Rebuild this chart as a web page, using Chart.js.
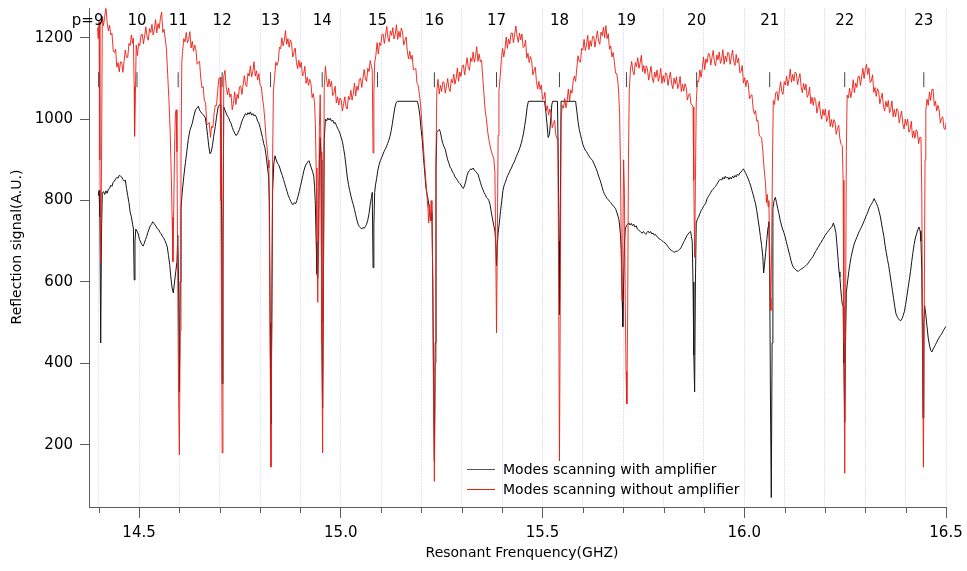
<!DOCTYPE html>
<html>
<head>
<meta charset="utf-8">
<title>Mode scan reflection</title>
<script src="https://cdn.jsdelivr.net/npm/chart.js@4.4.0/dist/chart.umd.min.js"></script>
<style>
  html, body { margin: 0; padding: 0; background: #fff; }
  #wrap { width: 967px; height: 571px; position: relative; }
</style>
</head>
<body>
<div id="wrap"><canvas id="modeChart"></canvas></div>
<script>
// reflection signal (A.U.) vs frequency (GHz)
const withAmp = [
  [14.399,812],[14.401,825],[14.403,760],[14.405,450],[14.407,720],[14.409,818],[14.412,822],[14.415,815],[14.418,824],[14.421,818],
  [14.424,828],[14.427,830],[14.430,838],[14.433,835],[14.436,845],[14.439,848],[14.442,853],[14.445,857],[14.448,855],[14.451,862],
  [14.454,860],[14.457,858],[14.460,852],[14.463,848],[14.466,850],[14.469,830],[14.472,812],[14.475,795],[14.478,772],[14.481,760],
  [14.484,742],[14.486,733],[14.488,605],[14.490,700],[14.492,730],[14.495,725],[14.498,718],[14.501,705],[14.504,698],[14.507,692],
  [14.510,688],[14.513,695],[14.516,704],[14.519,712],[14.522,722],[14.525,730],[14.528,738],[14.531,742],[14.534,748],[14.537,744],
  [14.540,740],[14.543,735],[14.546,730],[14.549,728],[14.552,722],[14.555,718],[14.558,712],[14.561,708],[14.564,702],[14.567,695],
  [14.570,686],[14.573,665],[14.576,643],[14.579,610],[14.582,585],[14.585,573],[14.588,600],[14.591,625],[14.594,650],[14.596,715],
  [14.598,600],[14.600,330],[14.602,600],[14.604,780],[14.607,820],[14.611,860],[14.615,893],[14.619,925],[14.622,950],[14.626,972],
  [14.632,990],[14.636,1008],[14.640,1023],[14.644,1028],[14.647,1032],[14.650,1022],[14.653,1018],[14.656,1014],[14.660,1010],[14.664,1004],
  [14.667,985],[14.670,960],[14.673,932],[14.676,915],[14.679,920],[14.682,935],[14.685,958],[14.689,982],[14.692,1005],[14.696,1030],
  [14.700,1036],[14.703,1035],[14.705,700],[14.706,350],[14.708,700],[14.710,1030],[14.713,1022],[14.716,1015],[14.719,1008],[14.722,1004],
  [14.725,995],[14.728,990],[14.731,980],[14.734,972],[14.737,966],[14.740,960],[14.743,962],[14.746,968],[14.749,975],[14.752,985],
  [14.755,995],[14.758,1002],[14.761,1008],[14.764,1014],[14.767,1010],[14.770,1016],[14.773,1012],[14.776,1018],[14.779,1010],[14.782,1014],
  [14.785,1008],[14.788,1010],[14.791,1005],[14.794,995],[14.797,990],[14.800,980],[14.803,968],[14.806,955],[14.809,940],[14.812,930],
  [14.815,910],[14.818,885],[14.821,860],[14.823,800],[14.825,500],[14.827,250],[14.829,500],[14.831,820],[14.834,890],[14.837,910],
  [14.840,900],[14.843,892],[14.846,888],[14.849,880],[14.852,870],[14.855,862],[14.858,852],[14.861,842],[14.864,832],[14.867,822],
  [14.870,812],[14.873,805],[14.876,798],[14.879,792],[14.882,790],[14.885,795],[14.888,792],[14.891,800],[14.894,810],[14.897,822],
  [14.900,835],[14.903,848],[14.906,862],[14.909,875],[14.912,885],[14.915,890],[14.918,895],[14.921,898],[14.924,890],[14.927,880],
  [14.930,872],[14.933,860],[14.935,835],[14.937,790],[14.939,700],[14.941,620],[14.943,610],[14.945,700],[14.947,900],[14.949,955],
  [14.951,900],[14.953,500],[14.955,290],[14.957,600],[14.959,950],[14.962,1000],[14.965,996],[14.968,1003],[14.971,998],[14.974,1002],
  [14.977,995],[14.980,998],[14.983,990],[14.986,992],[14.989,985],[14.992,978],[14.995,972],[14.998,965],[15.001,955],[15.004,945],
  [15.007,928],[15.010,910],[15.013,885],[15.016,858],[15.019,840],[15.022,825],[15.025,812],[15.028,800],[15.031,790],[15.034,778],
  [15.037,765],[15.040,752],[15.043,742],[15.046,736],[15.049,733],[15.052,730],[15.055,734],[15.058,732],[15.061,736],[15.064,742],
  [15.067,752],[15.070,768],[15.073,790],[15.076,808],[15.078,820],[15.080,635],[15.082,740],[15.084,820],[15.086,838],[15.089,855],
  [15.092,875],[15.095,888],[15.098,898],[15.101,905],[15.104,912],[15.107,920],[15.110,926],[15.113,932],[15.116,940],[15.119,948],
  [15.122,958],[15.125,972],[15.128,990],[15.131,1010],[15.134,1028],[15.137,1040],[15.140,1044],[15.190,1044],[15.193,1030],[15.196,1010],
  [15.199,975],[15.202,950],[15.205,905],[15.208,870],[15.211,832],[15.214,815],[15.217,800],[15.220,775],[15.222,758],[15.224,752],
  [15.226,770],[15.228,600],[15.230,350],[15.232,160],[15.234,450],[15.236,880],[15.238,968],[15.241,972],[15.244,975],[15.247,968],
  [15.250,952],[15.253,940],[15.256,932],[15.259,926],[15.262,912],[15.265,900],[15.268,892],[15.271,882],[15.274,878],[15.277,870],
  [15.280,866],[15.283,858],[15.286,855],[15.289,850],[15.292,845],[15.295,842],[15.298,838],[15.301,832],[15.304,830],[15.307,838],
  [15.310,848],[15.313,862],[15.316,870],[15.319,874],[15.322,878],[15.325,876],[15.328,880],[15.331,875],[15.334,872],[15.337,868],
  [15.340,865],[15.343,855],[15.346,845],[15.349,835],[15.352,828],[15.355,820],[15.358,815],[15.361,808],[15.364,805],[15.367,800],
  [15.370,790],[15.373,772],[15.376,755],[15.379,740],[15.382,725],[15.384,700],[15.386,640],[15.388,690],[15.390,720],[15.393,745],
  [15.396,775],[15.399,800],[15.402,825],[15.405,838],[15.408,845],[15.411,855],[15.414,862],[15.417,868],[15.420,875],[15.423,880],
  [15.426,888],[15.429,893],[15.432,900],[15.435,908],[15.438,915],[15.441,922],[15.444,930],[15.447,940],[15.450,952],[15.453,966],
  [15.456,985],[15.459,1005],[15.462,1030],[15.465,1044],[15.505,1044],[15.508,1020],[15.511,990],[15.514,955],[15.517,962],[15.520,995],
  [15.523,1035],[15.525,1044],[15.537,1044],[15.539,900],[15.541,700],[15.542,520],[15.544,760],[15.546,1044],[15.582,1044],[15.585,1020],
  [15.588,995],[15.591,975],[15.594,962],[15.597,950],[15.600,938],[15.603,930],[15.606,924],[15.609,920],[15.612,915],[15.615,910],
  [15.618,905],[15.621,902],[15.624,898],[15.627,892],[15.630,885],[15.633,878],[15.636,870],[15.639,860],[15.642,852],[15.645,843],
  [15.648,832],[15.651,822],[15.654,815],[15.657,810],[15.660,805],[15.663,802],[15.666,798],[15.669,795],[15.672,790],[15.675,788],
  [15.678,784],[15.681,780],[15.684,772],[15.687,762],[15.689,755],[15.691,740],[15.693,718],[15.695,680],[15.697,580],[15.699,490],
  [15.701,600],[15.703,690],[15.705,730],[15.708,738],[15.711,742],[15.714,745],[15.717,740],[15.720,744],[15.723,738],[15.726,742],
  [15.729,735],[15.732,738],[15.735,730],[15.738,728],[15.741,725],[15.744,722],[15.747,720],[15.750,724],[15.753,720],[15.756,717],
  [15.759,722],[15.762,725],[15.765,720],[15.768,724],[15.771,718],[15.774,720],[15.777,715],[15.780,717],[15.783,712],[15.786,710],
  [15.789,706],[15.792,705],[15.795,702],[15.798,700],[15.801,697],[15.804,696],[15.807,692],[15.810,688],[15.813,684],[15.816,680],
  [15.819,678],[15.822,676],[15.825,674],[15.828,673],[15.831,676],[15.834,675],[15.837,678],[15.840,680],[15.843,684],[15.846,690],
  [15.849,696],[15.852,702],[15.855,708],[15.858,714],[15.861,718],[15.864,722],[15.867,724],[15.869,712],[15.871,700],[15.873,600],
  [15.875,420],[15.877,330],[15.879,600],[15.881,745],[15.884,755],[15.887,760],[15.890,768],[15.893,775],[15.896,780],[15.899,786],
  [15.902,790],[15.905,795],[15.908,805],[15.911,810],[15.914,815],[15.917,820],[15.920,825],[15.923,828],[15.926,832],[15.929,835],
  [15.932,840],[15.935,845],[15.938,850],[15.941,853],[15.944,850],[15.947,857],[15.950,853],[15.953,860],[15.956,855],[15.959,858],
  [15.962,852],[15.965,857],[15.968,853],[15.971,860],[15.974,856],[15.977,862],[15.980,858],[15.983,865],[15.986,862],[15.989,868],
  [15.992,870],[15.995,874],[15.998,878],[16.001,872],[16.004,866],[16.007,860],[16.010,853],[16.013,845],[16.016,836],[16.019,825],
  [16.022,815],[16.025,803],[16.028,792],[16.031,775],[16.034,755],[16.037,735],[16.040,712],[16.043,690],[16.046,662],[16.048,622],
  [16.050,640],[16.053,672],[16.056,705],[16.059,735],[16.061,748],[16.063,620],[16.065,300],[16.067,70],[16.069,450],[16.071,780],
  [16.074,800],[16.077,808],[16.080,795],[16.083,780],[16.086,768],[16.089,752],[16.092,740],[16.095,730],[16.098,722],[16.101,712],
  [16.104,700],[16.107,688],[16.110,676],[16.113,665],[16.116,652],[16.119,642],[16.122,636],[16.125,632],[16.128,630],[16.131,627],
  [16.134,626],[16.137,629],[16.140,631],[16.143,633],[16.146,635],[16.149,637],[16.152,640],[16.155,643],[16.158,645],[16.161,650],
  [16.164,654],[16.167,658],[16.170,662],[16.173,668],[16.176,674],[16.179,678],[16.182,684],[16.185,688],[16.188,694],[16.191,698],
  [16.194,704],[16.197,708],[16.200,714],[16.203,718],[16.206,722],[16.209,726],[16.212,730],[16.215,733],[16.218,737],[16.221,745],
  [16.224,735],[16.227,722],[16.229,700],[16.231,676],[16.233,650],[16.235,625],[16.237,612],[16.239,585],[16.241,562],[16.243,545],
  [16.245,540],[16.247,400],[16.249,255],[16.251,450],[16.253,575],[16.256,600],[16.259,625],[16.262,645],[16.265,662],[16.268,676],
  [16.271,688],[16.274,698],[16.277,705],[16.280,712],[16.283,720],[16.286,726],[16.289,732],[16.292,738],[16.295,745],[16.298,752],
  [16.301,760],[16.304,766],[16.307,774],[16.310,782],[16.313,788],[16.316,793],[16.319,798],[16.322,805],[16.325,798],[16.328,792],
  [16.331,785],[16.334,774],[16.337,762],[16.340,745],[16.343,728],[16.346,712],[16.349,690],[16.352,672],[16.355,655],[16.358,640],
  [16.361,620],[16.364,600],[16.367,580],[16.370,560],[16.373,540],[16.376,522],[16.379,515],[16.382,510],[16.385,506],[16.388,505],
  [16.391,510],[16.394,518],[16.397,528],[16.400,545],[16.403,565],[16.406,585],[16.409,605],[16.412,625],[16.415,650],[16.418,672],
  [16.421,692],[16.424,708],[16.427,718],[16.430,728],[16.433,735],[16.436,725],[16.438,700],[16.440,627],[16.442,400],[16.443,265],
  [16.445,500],[16.447,542],[16.450,520],[16.453,490],[16.456,462],[16.459,445],[16.462,432],[16.465,428],[16.468,435],[16.471,440],
  [16.474,446],[16.477,452],[16.480,458],[16.483,463],[16.486,468],[16.489,472],[16.492,478],[16.495,483],[16.498,488],[16.501,492]
];

const withoutAmp = [
  [14.397,1225],[14.399,1198],[14.401,1240],[14.403,900],[14.405,650],[14.407,880],[14.409,1252],[14.412,1230],[14.415,1253],[14.418,1275],
  [14.421,1237],[14.424,1217],[14.427,1231],[14.430,1207],[14.433,1211],[14.436,1168],[14.439,1164],[14.442,1172],[14.445,1128],[14.448,1139],
  [14.451,1116],[14.454,1141],[14.457,1140],[14.460,1115],[14.463,1143],[14.466,1170],[14.469,1152],[14.472,1152],[14.475,1186],[14.478,1181],
  [14.481,1207],[14.484,1186],[14.486,1199],[14.488,1080],[14.489,958],[14.491,1060],[14.493,1182],[14.496,1156],[14.499,1186],[14.502,1181],
  [14.505,1207],[14.508,1209],[14.511,1185],[14.514,1206],[14.517,1227],[14.520,1202],[14.523,1194],[14.526,1223],[14.529,1213],[14.532,1233],
  [14.535,1207],[14.538,1220],[14.541,1245],[14.544,1212],[14.547,1235],[14.550,1223],[14.553,1249],[14.556,1263],[14.559,1213],[14.562,1221],
  [14.565,1197],[14.568,1172],[14.571,1110],[14.574,1050],[14.577,975],[14.580,860],[14.582,760],[14.584,650],[14.586,780],[14.588,920],
  [14.590,1010],[14.592,1023],[14.594,920],[14.596,600],[14.598,320],[14.600,175],[14.602,480],[14.604,900],[14.606,1140],[14.608,1167],
  [14.611,1198],[14.614,1190],[14.617,1213],[14.620,1188],[14.623,1195],[14.626,1215],[14.629,1175],[14.632,1191],[14.635,1167],[14.638,1182],
  [14.641,1171],[14.644,1135],[14.647,1139],[14.650,1142],[14.653,1101],[14.656,1077],[14.659,1080],[14.662,1045],[14.665,1040],[14.668,988],
  [14.671,987],[14.674,992],[14.677,955],[14.680,983],[14.683,979],[14.686,1014],[14.689,1034],[14.692,1033],[14.695,1071],[14.698,1100],
  [14.701,1103],[14.703,800],[14.705,400],[14.706,180],[14.708,600],[14.710,1105],[14.713,1120],[14.716,1081],[14.719,1060],[14.722,1077],
  [14.725,1054],[14.728,1062],[14.731,1023],[14.734,1039],[14.737,1067],[14.740,1036],[14.743,1061],[14.746,1051],[14.749,1079],[14.752,1082],
  [14.755,1061],[14.758,1084],[14.761,1107],[14.764,1085],[14.767,1080],[14.770,1113],[14.773,1106],[14.776,1131],[14.779,1104],[14.782,1117],
  [14.785,1141],[14.788,1106],[14.791,1119],[14.794,1096],[14.797,1112],[14.800,1085],[14.803,1080],[14.806,1052],[14.809,1030],[14.812,995],
  [14.815,950],[14.818,925],[14.820,900],[14.822,880],[14.824,600],[14.826,250],[14.827,145],[14.829,500],[14.831,900],[14.833,1070],
  [14.836,1103],[14.839,1140],[14.842,1132],[14.845,1142],[14.848,1177],[14.851,1173],[14.854,1200],[14.857,1180],[14.860,1193],[14.863,1218],
  [14.866,1184],[14.869,1198],[14.872,1177],[14.875,1195],[14.878,1187],[14.881,1153],[14.884,1164],[14.887,1175],[14.890,1140],[14.893,1124],
  [14.896,1145],[14.899,1127],[14.902,1140],[14.905,1106],[14.908,1112],[14.911,1130],[14.914,1088],[14.917,1103],[14.920,1083],[14.923,1098],
  [14.926,1088],[14.929,1053],[14.932,1063],[14.935,1040],[14.937,990],[14.939,880],[14.941,700],[14.943,550],[14.945,720],[14.947,980],
  [14.949,1060],[14.951,920],[14.953,450],[14.955,180],[14.957,600],[14.959,1080],[14.962,1130],[14.965,1095],[14.968,1079],[14.971,1099],
  [14.974,1080],[14.977,1093],[14.980,1058],[14.983,1064],[14.986,1081],[14.989,1040],[14.992,1055],[14.995,1035],[14.998,1052],[15.001,1047],
  [15.004,1020],[15.007,1038],[15.010,1055],[15.013,1031],[15.016,1025],[15.019,1056],[15.022,1048],[15.025,1071],[15.028,1047],[15.031,1062],
  [15.034,1089],[15.037,1057],[15.040,1081],[15.043,1071],[15.046,1098],[15.049,1101],[15.052,1078],[15.055,1101],[15.058,1122],[15.061,1099],
  [15.064,1093],[15.067,1125],[15.070,1117],[15.073,1144],[15.076,1130],[15.078,1120],[15.080,917],[15.082,1060],[15.084,1138],[15.087,1157],
  [15.090,1188],[15.093,1160],[15.096,1188],[15.099,1181],[15.102,1208],[15.105,1209],[15.108,1186],[15.111,1207],[15.114,1228],[15.117,1200],
  [15.120,1190],[15.123,1217],[15.126,1206],[15.129,1225],[15.132,1197],[15.135,1208],[15.138,1232],[15.141,1196],[15.144,1216],[15.147,1201],
  [15.150,1224],[15.153,1215],[15.156,1182],[15.159,1193],[15.162,1202],[15.165,1166],[15.168,1148],[15.171,1167],[15.174,1147],[15.177,1157],
  [15.180,1121],[15.183,1123],[15.186,1125],[15.189,1088],[15.192,1083],[15.195,1060],[15.198,1035],[15.201,990],[15.204,945],[15.207,900],
  [15.210,860],[15.213,820],[15.216,780],[15.218,745],[15.220,790],[15.222,750],[15.224,800],[15.226,770],[15.228,600],[15.230,300],
  [15.232,110],[15.234,400],[15.236,900],[15.238,1070],[15.241,1098],[15.244,1062],[15.247,1083],[15.250,1068],[15.253,1092],[15.256,1090],
  [15.259,1064],[15.262,1082],[15.265,1100],[15.268,1075],[15.271,1068],[15.274,1098],[15.277,1089],[15.280,1111],[15.283,1086],[15.286,1100],
  [15.289,1126],[15.292,1093],[15.295,1116],[15.298,1105],[15.301,1131],[15.304,1133],[15.307,1109],[15.310,1131],[15.313,1151],[15.316,1127],
  [15.319,1120],[15.322,1151],[15.325,1142],[15.328,1165],[15.331,1140],[15.334,1154],[15.337,1178],[15.340,1142],[15.343,1160],[15.346,1141],
  [15.349,1145],[15.352,1100],[15.355,1060],[15.358,1020],[15.361,1000],[15.364,970],[15.367,950],[15.370,935],[15.373,922],[15.376,912],
  [15.379,905],[15.382,870],[15.384,700],[15.386,475],[15.388,700],[15.390,960],[15.392,1070],[15.395,1103],[15.398,1147],[15.401,1174],
  [15.404,1153],[15.407,1172],[15.410,1202],[15.413,1174],[15.416,1197],[15.419,1185],[15.422,1211],[15.425,1212],[15.428,1188],[15.431,1209],
  [15.434,1229],[15.437,1204],[15.440,1189],[15.443,1212],[15.446,1195],[15.449,1209],[15.452,1176],[15.455,1179],[15.458,1194],[15.461,1150],
  [15.464,1162],[15.467,1139],[15.470,1154],[15.473,1144],[15.476,1109],[15.479,1119],[15.482,1128],[15.485,1092],[15.488,1074],[15.491,1093],
  [15.494,1073],[15.497,1084],[15.500,1048],[15.503,1051],[15.506,1066],[15.509,1021],[15.512,1033],[15.515,1010],[15.518,1025],[15.521,1015],
  [15.524,979],[15.527,989],[15.530,997],[15.533,961],[15.536,952],[15.538,950],[15.540,600],[15.542,160],[15.544,550],[15.546,1000],
  [15.549,1034],[15.552,1027],[15.555,1051],[15.558,1028],[15.561,1044],[15.564,1074],[15.567,1045],[15.570,1072],[15.573,1064],[15.576,1094],
  [15.579,1106],[15.582,1093],[15.585,1125],[15.588,1156],[15.591,1142],[15.594,1140],[15.597,1174],[15.600,1170],[15.603,1196],[15.606,1169],
  [15.609,1182],[15.612,1206],[15.615,1171],[15.618,1193],[15.621,1179],[15.624,1203],[15.627,1203],[15.630,1177],[15.633,1198],[15.636,1217],
  [15.639,1192],[15.642,1184],[15.645,1214],[15.648,1205],[15.651,1226],[15.654,1200],[15.657,1230],[15.660,1198],[15.663,1210],[15.666,1172],
  [15.669,1180],[15.672,1153],[15.675,1164],[15.678,1142],[15.681,1113],[15.684,1112],[15.687,1090],[15.689,1060],[15.691,1014],[15.693,900],
  [15.695,700],[15.697,552],[15.699,700],[15.701,900],[15.703,820],[15.705,550],[15.707,380],[15.709,300],[15.711,520],[15.713,900],
  [15.715,1070],[15.718,1123],[15.721,1142],[15.724,1117],[15.727,1109],[15.730,1139],[15.733,1129],[15.736,1151],[15.739,1125],[15.742,1139],
  [15.745,1157],[15.748,1117],[15.751,1132],[15.754,1112],[15.757,1131],[15.760,1124],[15.763,1096],[15.766,1113],[15.769,1130],[15.772,1101],
  [15.775,1090],[15.778,1116],[15.781,1103],[15.784,1121],[15.787,1093],[15.790,1103],[15.793,1125],[15.796,1088],[15.799,1107],[15.802,1091],
  [15.805,1114],[15.808,1111],[15.811,1083],[15.814,1100],[15.817,1116],[15.820,1087],[15.823,1075],[15.826,1101],[15.829,1087],[15.832,1104],
  [15.835,1075],[15.838,1084],[15.841,1105],[15.844,1068],[15.847,1086],[15.850,1069],[15.853,1087],[15.856,1079],[15.859,1047],[15.862,1059],
  [15.865,1063],[15.868,1037],[15.871,1035],[15.873,1030],[15.875,850],[15.877,660],[15.879,850],[15.881,1040],[15.884,1094],[15.887,1092],
  [15.890,1121],[15.893,1103],[15.896,1124],[15.899,1153],[15.902,1122],[15.905,1148],[15.908,1139],[15.911,1162],[15.914,1160],[15.917,1133],
  [15.920,1151],[15.923,1169],[15.926,1141],[15.929,1131],[15.932,1158],[15.935,1146],[15.938,1165],[15.941,1137],[15.944,1148],[15.947,1171],
  [15.950,1135],[15.953,1155],[15.956,1141],[15.959,1164],[15.962,1162],[15.965,1135],[15.968,1153],[15.971,1170],[15.974,1142],[15.977,1132],
  [15.980,1159],[15.983,1139],[15.986,1150],[15.989,1114],[15.992,1117],[15.995,1132],[15.998,1089],[16.001,1102],[16.004,1080],[16.007,1096],
  [16.010,1087],[16.013,1050],[16.016,1058],[16.019,1060],[16.022,1027],[16.025,1013],[16.028,1021],[16.031,995],[16.034,997],[16.037,961],
  [16.040,957],[16.043,954],[16.046,922],[16.048,893],[16.051,860],[16.053,835],[16.055,795],[16.057,815],[16.059,785],[16.061,800],
  [16.063,680],[16.065,560],[16.066,530],[16.068,700],[16.070,900],[16.072,1046],[16.075,1036],[16.078,1065],[16.081,1068],[16.084,1046],
  [16.087,1070],[16.090,1092],[16.093,1068],[16.096,1061],[16.099,1092],[16.102,1084],[16.105,1106],[16.108,1082],[16.111,1097],[16.114,1123],
  [16.117,1091],[16.120,1110],[16.123,1094],[16.126,1116],[16.129,1113],[16.132,1085],[16.135,1099],[16.138,1112],[16.141,1080],[16.144,1065],
  [16.147,1088],[16.150,1072],[16.153,1086],[16.156,1054],[16.159,1060],[16.162,1079],[16.165,1038],[16.168,1054],[16.171,1034],[16.174,1053],
  [16.177,1046],[16.180,1015],[16.183,1030],[16.186,1044],[16.189,1013],[16.192,1000],[16.195,1024],[16.198,1009],[16.201,1025],[16.204,994],
  [16.207,1002],[16.210,1022],[16.213,982],[16.216,999],[16.219,980],[16.222,999],[16.225,993],[16.228,963],[16.231,977],[16.234,985],
  [16.237,952],[16.240,938],[16.243,935],[16.245,850],[16.247,450],[16.249,130],[16.251,500],[16.253,920],[16.255,1059],[16.258,1052],
  [16.261,1076],[16.264,1053],[16.267,1069],[16.270,1097],[16.273,1065],[16.276,1089],[16.279,1078],[16.282,1104],[16.285,1106],[16.288,1083],
  [16.291,1104],[16.294,1125],[16.297,1100],[16.300,1122],[16.303,1135],[16.306,1110],[16.309,1126],[16.312,1090],[16.315,1094],[16.318,1109],
  [16.321,1066],[16.324,1078],[16.327,1056],[16.330,1075],[16.333,1069],[16.336,1038],[16.339,1051],[16.342,1064],[16.345,1032],[16.348,1020],
  [16.351,1044],[16.354,1030],[16.357,1046],[16.360,1016],[16.363,1024],[16.366,1045],[16.369,1006],[16.372,1024],[16.375,1006],[16.378,1026],
  [16.381,1021],[16.384,991],[16.387,1006],[16.390,1020],[16.393,989],[16.396,976],[16.399,1000],[16.402,985],[16.405,1000],[16.408,968],
  [16.411,975],[16.414,995],[16.417,955],[16.420,971],[16.423,953],[16.426,974],[16.429,969],[16.432,940],[16.435,955],[16.438,955],
  [16.440,820],[16.442,450],[16.444,145],[16.446,500],[16.448,900],[16.450,1022],[16.453,1049],[16.456,1034],[16.459,1067],[16.462,1046],
  [16.465,1073],[16.468,1074],[16.471,1033],[16.474,1044],[16.477,1020],[16.480,1034],[16.483,1023],[16.486,991],[16.489,1002],[16.492,1006],
  [16.495,977],[16.498,975],[16.501,995]
];

// cavity mode numbers and where each resonance sits
const modeFreq = [14.400, 14.495, 14.597, 14.706, 14.826, 14.954, 15.091, 15.232, 15.386, 15.542, 15.708, 15.882, 16.063, 16.249, 16.445];
const modeLabels = ['p=9', '10', '11', '12', '13', '14', '15', '16', '17', '18', '19', '20', '21', '22', '23'];
const modeMarkLevel = 1097;

const xTicks = [14.4, 14.5, 14.6, 14.7, 14.8, 14.9, 15.0, 15.1, 15.2, 15.3, 15.4, 15.5, 15.6, 15.7, 15.8, 15.9, 16.0, 16.1, 16.2, 16.3, 16.4, 16.5];
const xLabelled = [14.5, 15.0, 15.5, 16.0, 16.5];
const yTicks = [200, 400, 600, 800, 1000, 1200];

const seriesNames = ['Modes scanning with amplifier', 'Modes scanning without amplifier'];

const FONT = '"DejaVu Sans", "Lucida Grande", sans-serif';
const AXIS = '#5e5e5e';
const BLACK = '#161616';
const RED = 'rgba(236, 30, 20, 0.9)';

const toXY = pairs => pairs.map(([x, y]) => ({ x, y }));

// mode numbers along the top, short minor ticks, axis titles and the legend
const annotate = {
  id: 'annotate',
  afterDraw(chart) {
    const { ctx, chartArea, scales: { x } } = chart;
    ctx.save();

    ctx.strokeStyle = AXIS;
    ctx.lineWidth = 1;
    xTicks.forEach(v => {
      if (xLabelled.includes(v)) return;
      const px = Math.round(x.getPixelForValue(v)) + 0.5;
      ctx.beginPath();
      ctx.moveTo(px, chartArea.bottom);
      ctx.lineTo(px, chartArea.bottom + 6);
      ctx.stroke();
    });

    ctx.fillStyle = '#000';
    ctx.textBaseline = 'middle';
    ctx.font = '15px ' + FONT;
    modeLabels.forEach((label, i) => {
      const px = x.getPixelForValue(modeFreq[i]);
      const num = label.replace('p=', '');
      ctx.textAlign = 'right';
      ctx.fillText(label, px + ctx.measureText(num).width / 2, chartArea.top + 13);
    });

    ctx.font = '14px ' + FONT;
    ctx.textAlign = 'center';
    ctx.fillText('Resonant Frenquency(GHZ)', 522, 553);
    ctx.save();
    ctx.translate(17, 247);
    ctx.rotate(-Math.PI / 2);
    ctx.fillText('Reflection signal(A.U.)', 0, 0);
    ctx.restore();

    const rows = [['#555', 469.5], ['rgb(236, 30, 20)', 489.5]];
    ctx.textAlign = 'left';
    rows.forEach(([color, ly], i) => {
      ctx.strokeStyle = color;
      ctx.lineWidth = 1;
      ctx.beginPath();
      ctx.moveTo(467, ly);
      ctx.lineTo(495, ly);
      ctx.stroke();
      ctx.fillStyle = '#000';
      ctx.fillText(seriesNames[i], 503, ly + 0.5);
    });

    ctx.restore();
  }
};

new Chart(document.getElementById('modeChart'), {
  type: 'line',
  data: {
    datasets: [
      {
        label: seriesNames[0],
        data: toXY(withAmp),
        borderColor: BLACK,
        borderWidth: 1,
        pointRadius: 0,
        borderJoinStyle: 'round',
        tension: 0,
        order: 2
      },
      {
        label: seriesNames[1],
        data: toXY(withoutAmp),
        borderColor: RED,
        borderWidth: 1,
        pointRadius: 0,
        borderJoinStyle: 'round',
        tension: 0,
        order: 1
      },
      {
        type: 'scatter',
        label: 'modes',
        data: modeFreq.map(f => ({ x: f, y: modeMarkLevel })),
        pointStyle: 'line',
        rotation: 90,
        pointRadius: 7.5,
        borderColor: '#444',
        borderWidth: 1,
        showLine: false,
        order: 0
      }
    ]
  },
  options: {
    responsive: true,
    maintainAspectRatio: false,
    animation: false,
    events: [],
    parsing: false,
    layout: { padding: { left: 0, right: 21, top: 0, bottom: 0 } },
    plugins: {
      legend: { display: false },
      tooltip: { enabled: false }
    },
    scales: {
      x: {
        type: 'linear',
        position: 'bottom',
        min: 14.376,
        max: 16.5,
        afterBuildTicks: s => { s.ticks = xTicks.map(v => ({ value: v })); },
        afterFit: s => { s.height = 64; s.paddingLeft = 0; s.paddingRight = 0; },
        ticks: {
          autoSkip: false,
          maxRotation: 0,
          padding: 6,
          color: '#000',
          font: { family: FONT, size: 15 },
          callback: v => (xLabelled.includes(v) ? v.toFixed(1) : '')
        },
        grid: {
          color: 'rgba(140, 140, 255, 0.5)',
          lineWidth: 1,
          drawTicks: true,
          tickLength: 11,
          tickWidth: 1,
          tickColor: c => (c.tick && xLabelled.includes(c.tick.value) ? AXIS : 'rgba(0,0,0,0)')
        },
        border: { display: true, color: AXIS, width: 1, dash: [1, 2] }
      },
      y: {
        type: 'linear',
        position: 'left',
        min: 47,
        max: 1272,
        afterBuildTicks: s => { s.ticks = yTicks.map(v => ({ value: v })); },
        afterFit: s => { s.width = 89; s.paddingTop = 0; s.paddingBottom = 0; },
        ticks: {
          padding: 7,
          color: '#000',
          font: { family: FONT, size: 15 },
          callback: v => String(v)
        },
        grid: {
          drawOnChartArea: false,
          drawTicks: true,
          tickLength: 9,
          tickColor: AXIS
        },
        border: { display: true, color: AXIS, width: 1 }
      }
    }
  },
  plugins: [annotate]
});
</script>
</body>
</html>
